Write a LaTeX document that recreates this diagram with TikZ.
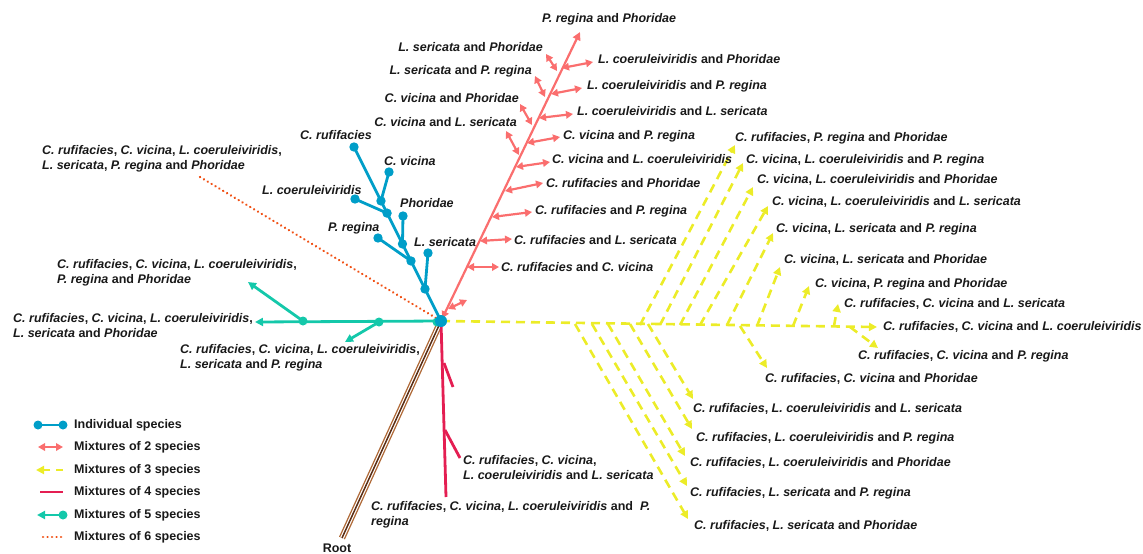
\documentclass[tikz,border=0pt]{standalone}
\usepackage{fontspec}
\setmainfont{Liberation Sans}
\usetikzlibrary{arrows.meta,calc}
\definecolor{cblue}{RGB}{0,158,200}
\definecolor{csalmon}{RGB}{250,110,110}
\definecolor{cyellow}{RGB}{236,236,40}
\definecolor{ccrim}{RGB}{228,30,82}
\definecolor{cteal}{RGB}{20,200,170}
\definecolor{corange}{RGB}{240,80,20}
\definecolor{cbrown}{RGB}{175,105,55}
\definecolor{cdbrown}{RGB}{90,45,20}
\newcommand{\ital}[1]{\textit{#1}}
\tikzset{
  lab/.style={font=\bfseries\fontsize{12.5}{15}\selectfont, inner sep=0pt, align=left, text=black!90},
  s1/.style={draw=cblue, line width=2.8pt},
  s2/.style={draw=csalmon, line width=2.2pt, {Triangle[length=7pt,width=7.5pt]}-{Triangle[length=7pt,width=7.5pt]}},
  s2top/.style={draw=csalmon, line width=2.2pt, {Triangle[length=7pt,width=7.5pt]}-{Triangle[length=8pt,width=8pt]}},
  s3/.style={draw=cyellow, line width=2.6pt, dash pattern=on 9pt off 6pt, -{Triangle[length=8pt,width=8pt]}},
  s4/.style={draw=ccrim, line width=2.8pt},
  s5/.style={draw=cteal, line width=2.8pt},
  s5a/.style={draw=cteal, line width=2.8pt, -{Triangle[length=8pt,width=8pt]}},
  s6/.style={draw=corange, line width=2.5pt, line cap=round, dash pattern=on 0.1pt off 4.4pt},
  bdot/.style={fill=cblue},
  tdot/.style={fill=cteal},
}
\begin{document}
\begin{tikzpicture}[x=1pt,y=-1pt]
\useasboundingbox (0,0) rectangle (1143,554);
\coordinate (hub) at (441,321);

% ---------- root ----------
\coordinate (rootend) at (342,538);
\draw[cbrown, line width=6.5pt] (hub) -- (rootend);
\draw[white, line width=3.8pt] (hub) -- (rootend);
\draw[cdbrown, line width=1.5pt] (hub) -- (rootend);
\node[lab] (root) at (337,548) {Root};

% ---------- mixtures of 3 (yellow) ----------
\coordinate (yend) at (877,327);
\draw[s3] (hub) -- (yend);
\node[lab, anchor=west] (y0) at (883,327) {\ital{C. rufifacies}, \ital{C. vicina} and \ital{L. coeruleiviridis}};
% up branches
\foreach \bx/\by/\tx/\ty/\nm in {640/325/735/145/u1, 660/325/743/163/u2, 680/325/753/187/u3, 700/325/768/206/u4, 727/325/773/233/u5, 757/326/780/267/u6, 793/326/809/286/u7, 834/326/838/304/u8}{
  \coordinate (\nm b) at (\bx,\by);
  \coordinate (\nm t) at (\tx,\ty);
  \draw[s3] (\nm b) -- (\nm t);
}
\node[lab, anchor=west] (lu1) at (735,138) {\ital{C. rufifacies}, \ital{P. regina} and \ital{Phoridae}};
\node[lab, anchor=west] (lu2) at (746,160) {\ital{C. vicina}, \ital{L. coeruleiviridis} and \ital{P. regina}};
\node[lab, anchor=west] (lu3) at (757,180) {\ital{C. vicina}, \ital{L. coeruleiviridis} and \ital{Phoridae}};
\node[lab, anchor=west] (lu4) at (772,202) {\ital{C. vicina}, \ital{L. coeruleiviridis} and \ital{L. sericata}};
\node[lab, anchor=west] (lu5) at (776,229) {\ital{C. vicina}, \ital{L. sericata} and \ital{P. regina}};
\node[lab, anchor=west] (lu6) at (784,260) {\ital{C. vicina}, \ital{L. sericata} and \ital{Phoridae}};
\node[lab, anchor=west] (lu7) at (815,284) {\ital{C. vicina}, \ital{P. regina} and \ital{Phoridae}};
\node[lab, anchor=west] (lu8) at (844,304) {\ital{C. rufifacies}, \ital{C. vicina} and \ital{L. sericata}};
% down branches
\foreach \bx/\by/\tx/\ty/\nm in {575/324/688/519/d1, 592/324/687/486/d2, 608/324/685/456/d3, 630/324/692/429/d4, 648/324/693/399/d5, 740/326/767/368/d6, 850/327/878/348/d7}{
  \coordinate (\nm b) at (\bx,\by);
  \coordinate (\nm t) at (\tx,\ty);
  \draw[s3] (\nm b) -- (\nm t);
}
\node[lab, anchor=west] (ld1) at (694,526) {\ital{C. rufifacies}, \ital{L. sericata} and \ital{Phoridae}};
\node[lab, anchor=west] (ld2) at (690,493) {\ital{C. rufifacies}, \ital{L. sericata} and \ital{P. regina}};
\node[lab, anchor=west] (ld3) at (690,463) {\ital{C. rufifacies}, \ital{L. coeruleiviridis} and \ital{Phoridae}};
\node[lab, anchor=west] (ld4) at (696,438) {\ital{C. rufifacies}, \ital{L. coeruleiviridis} and \ital{P. regina}};
\node[lab, anchor=west] (ld5) at (693,409) {\ital{C. rufifacies}, \ital{L. coeruleiviridis} and \ital{L. sericata}};
\node[lab, anchor=west] (ld6) at (765,379) {\ital{C. rufifacies}, \ital{C. vicina} and \ital{Phoridae}};
\node[lab, anchor=west] (ld7) at (858,356) {\ital{C. rufifacies}, \ital{C. vicina} and \ital{P. regina}};

% ---------- mixtures of 4 (crimson) ----------
\coordinate (cbot) at (446,497);
\coordinate (cj1) at (444,363);
\coordinate (cj2) at (445,430);
\coordinate (ce1) at (453,387);
\coordinate (ce2) at (460,458);
\draw[s4] (hub) -- (cbot);
\draw[s4] (cj1) -- (ce1);
\draw[s4] (cj2) -- (ce2);
\node[lab, anchor=west] (lc1) at (463,468) {\ital{C. rufifacies}, \ital{C. vicina},\\\ital{L. coeruleiviridis} and \ital{L. sericata}};
\node[lab, anchor=west] (lc2) at (371,515) {\ital{C. rufifacies}, \ital{C. vicina}, \ital{L. coeruleiviridis} and \ \ital{P.}\\\ital{regina}};

% ---------- mixtures of 2 (salmon) ----------
\coordinate (stop) at (580,32);
\draw[s2top, shorten <=3pt] (hub) -- (stop);
\node[lab, anchor=west] (ltop) at (542,19) {\ital{P. regina} and \ital{Phoridae}};
\foreach \ax/\ay/\bx/\by/\nm in {448/309/467/300/r0, 467/267/499/267/r1, 480/241/512/239/r2, 492/217/532/212/r3, 505/191/543/183/r4, 516/167/550/162/r5, 527/143/560/137/r6, 539/118/573/114/r7, 551/94/582/88/r8, 562/68/593/62/r9,
  519/155/506/131/l1, 532/125/520/104/l2, 545/97/535/76/l3, 557/71/546/54/l4}{
  \coordinate (\nm a) at (\ax,\ay);
  \coordinate (\nm b) at (\bx,\by);
  \draw[s2] (\nm a) -- (\nm b);
}
\node[lab, anchor=west] (lr1) at (501,267) {\ital{C. rufifacies} and \ital{C. vicina}};
\node[lab, anchor=west] (lr2) at (514,240) {\ital{C. rufifacies} and \ital{L. sericata}};
\node[lab, anchor=west] (lr3) at (535,211) {\ital{C. rufifacies} and \ital{P. regina}};
\node[lab, anchor=west] (lr4) at (546,183) {\ital{C. rufifacies} and \ital{Phoridae}};
\node[lab, anchor=west] (lr5) at (552,159) {\ital{C. vicina} and \ital{L. coeruleiviridis}};
\node[lab, anchor=west] (lr6) at (563,136) {\ital{C. vicina} and \ital{P. regina}};
\node[lab, anchor=west] (lr7) at (577,111) {\ital{L. coeruleiviridis} and \ital{L. sericata}};
\node[lab, anchor=west] (lr8) at (587,86) {\ital{L. coeruleiviridis} and \ital{P. regina}};
\node[lab, anchor=west] (lr9) at (598,59) {\ital{L. coeruleiviridis} and \ital{Phoridae}};
\node[lab, anchor=east] (ll1) at (517,122) {\ital{C. vicina} and \ital{L. sericata}};
\node[lab, anchor=east] (ll2) at (519,98) {\ital{C. vicina} and \ital{Phoridae}};
\node[lab, anchor=east] (ll3) at (532,71) {\ital{L. sericata} and \ital{P. regina}};
\node[lab, anchor=east] (ll4) at (543,47) {\ital{L. sericata} and \ital{Phoridae}};

% ---------- mixtures of 6 (orange dotted) ----------
\coordinate (oend) at (200,177);
\draw[s6] (oend) -- (hub);
\node[lab, anchor=west] (lo) at (42,159) {\ital{C. rufifacies}, \ital{C. vicina}, \ital{L. coeruleiviridis},\\\ital{L. sericata}, \ital{P. regina} and \ital{Phoridae}};

% ---------- mixtures of 5 (teal) ----------
\coordinate (t0) at (437,322);
\coordinate (t1) at (379,322);
\coordinate (t2) at (303,321);
\coordinate (tend) at (255,322);
\coordinate (tup) at (248,282);
\coordinate (tdn) at (345,342);
\draw[s5a] (hub) -- (tend);
\draw[s5a] (t2) -- (tup);
\draw[s5a] (t1) -- (tdn);
\fill[tdot] (t0) circle (4.5pt) (t1) circle (4.5pt) (t2) circle (4.5pt);
\node[lab, anchor=west] (lt1) at (57,273) {\ital{C. rufifacies}, \ital{C. vicina}, \ital{L. coeruleiviridis},\\\ital{P. regina} and \ital{Phoridae}};
\node[lab, anchor=west] (lt2) at (13,326) {\ital{C. rufifacies}, \ital{C. vicina}, \ital{L. coeruleiviridis},\\\ital{L. sericata} and \ital{Phoridae}};
\node[lab, anchor=west] (lt3) at (180,358) {\ital{C. rufifacies}, \ital{C. vicina}, \ital{L. coeruleiviridis},\\\ital{L. sericata} and \ital{P. regina}};

% ---------- individual species (blue) ----------
\coordinate (brufi) at (354,147);
\coordinate (bj1) at ($(hub)!0.184!(brufi)$);
\coordinate (bj2) at ($(hub)!0.345!(brufi)$);
\coordinate (bj3) at ($(hub)!0.443!(brufi)$);
\coordinate (bj4) at ($(hub)!0.62!(brufi)$);
\coordinate (bj5) at ($(hub)!0.69!(brufi)$);
\coordinate (bser) at (428,253);
\coordinate (bpreg) at (378,238);
\coordinate (bphor) at (403,216);
\coordinate (blcoe) at (355,199);
\coordinate (bvic) at (389,172);
\draw[s1] (hub) -- (brufi);
\draw[s1] (bj1) -- (bser);
\draw[s1] (bj2) -- (bpreg);
\draw[s1] (bj3) -- (bphor);
\draw[s1] (bj4) -- (blcoe);
\draw[s1] (bj5) -- (bvic);
\foreach \p in {brufi,bj1,bj2,bj3,bj4,bj5,bser,bpreg,bphor,blcoe,bvic}{\fill[bdot] (\p) circle (4.7pt);}
\node[lab, anchor=west] (lb1) at (300,135) {\ital{C. rufifacies}};
\node[lab, anchor=west] (lb2) at (384,161) {\ital{C. vicina}};
\node[lab, anchor=west] (lb3) at (262,190) {\ital{L. coeruleiviridis}};
\node[lab, anchor=west] (lb4) at (400,203) {\ital{Phoridae}};
\node[lab, anchor=west] (lb5) at (328,228) {\ital{P. regina}};
\node[lab, anchor=west] (lb6) at (414,242) {\ital{L. sericata}};

\fill[cblue] (hub) circle (6pt);

% ---------- legend ----------
\coordinate (g1a) at (38,425); \coordinate (g1b) at (63,425);
\coordinate (g2a) at (38,447); \coordinate (g2b) at (63,447);
\coordinate (g3a) at (63,470); \coordinate (g3b) at (36,470);
\coordinate (g4a) at (40,492); \coordinate (g4b) at (63,492);
\coordinate (g5a) at (63,515); \coordinate (g5b) at (37,515);
\coordinate (g6a) at (43,537); \coordinate (g6b) at (63,537);
\draw[s1] (g1a) -- (g1b);
\fill[bdot] (g1a) circle (4.5pt) (g1b) circle (4.5pt);
\draw[s2] (g2a) -- (g2b);
\draw[s3, dash pattern=on 7pt off 6pt] (g3a) -- (g3b);
\draw[s4] (g4a) -- (g4b);
\draw[s5a] (g5a) -- (g5b);
\fill[tdot] (g5a) circle (4.5pt);
\draw[s6] (g6a) -- (g6b);
\node[lab, anchor=west] (t1l) at (74,425) {Individual species};
\node[lab, anchor=west] (t2l) at (74,447) {Mixtures of 2 species};
\node[lab, anchor=west] (t3l) at (74,470) {Mixtures of 3 species};
\node[lab, anchor=west] (t4l) at (74,492) {Mixtures of 4 species};
\node[lab, anchor=west] (t5l) at (74,515) {Mixtures of 5 species};
\node[lab, anchor=west] (t6l) at (74,537) {Mixtures of 6 species};
\end{tikzpicture}
\end{document}
